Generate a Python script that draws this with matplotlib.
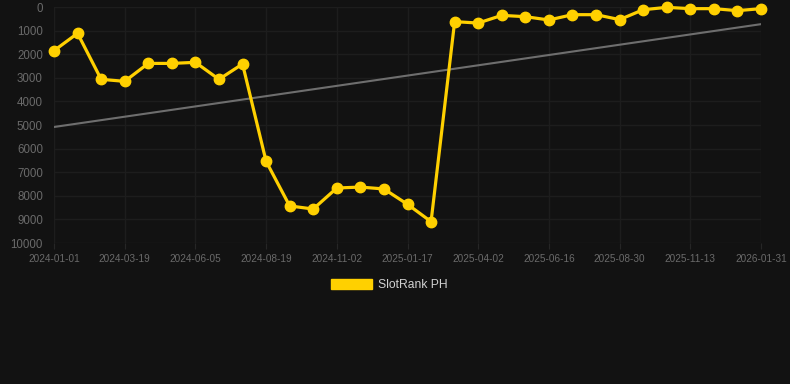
import matplotlib.pyplot as plt
from matplotlib.patches import Patch
import numpy as np

# =====================================================
# DATA
# =====================================================
RANKS = [
    1850, 1115, 3065, 3150, 2390, 2390, 2345, 3065, 2415,
    6540, 8430, 8560, 7670, 7630, 7710, 8360, 9095,
    620, 680, 355, 410, 550, 325, 325, 535, 115, 15, 70, 70, 155, 70,
]
TICK_LABELS = [
    "2024-01-01", "2024-03-19", "2024-06-05", "2024-08-19", "2024-11-02",
    "2025-01-17", "2025-04-02", "2025-06-16", "2025-08-30", "2025-11-13",
    "2026-01-31",
]
SERIES_NAME = "SlotRank PH"

# =====================================================
# STYLE
# =====================================================
BG = "#121212"
GRID = "#1d1d1d"
GOLD = "#FFD000"
TREND = "#6e6e6e"
TICK_COLOR = "#6a6a6a"

plt.rcParams["font.family"] = ["Liberation Sans", "DejaVu Sans"]

x = np.arange(len(RANKS))
slope, intercept = np.polyfit(x, RANKS, 1)
trend = slope * x + intercept

fig = plt.figure(figsize=(7.9, 3.84), dpi=100, facecolor=BG)
ax = fig.add_axes([54 / 790, 1 - 243 / 384, 707 / 790, 236 / 384])
ax.set_facecolor(BG)

ax.plot(x, trend, color=TREND, linewidth=1.5, zorder=2)
ax.plot(x, RANKS, color=GOLD, linewidth=2.3, marker="o", markersize=7.5,
        zorder=3, clip_on=False)

ax.set_xlim(0, len(RANKS) - 1)
ax.set_ylim(10000, 0)
ax.set_yticks(range(0, 10001, 1000))
ax.set_yticklabels([str(v) for v in range(0, 10001, 1000)])
ax.set_xticks(x[::3])
ax.set_xticklabels(TICK_LABELS)

ax.grid(True, color=GRID, linewidth=1)
ax.set_axisbelow(True)
for s in ax.spines.values():
    s.set_visible(False)

ax.tick_params(axis="y", length=0, pad=8, labelsize=8.3, labelcolor=TICK_COLOR)
ax.tick_params(axis="x", length=4, color="#262626", pad=4, labelsize=7.2,
               labelcolor=TICK_COLOR)

fig.legend(handles=[Patch(facecolor=GOLD, edgecolor=GOLD)], labels=[SERIES_NAME],
           loc="center", bbox_to_anchor=(0.493, 1 - 285 / 384), frameon=False,
           fontsize=8.7, labelcolor="#d0d0d0", handlelength=3.4, handleheight=0.95,
           handletextpad=0.5)

fig.savefig("out.png", dpi=100, facecolor=BG)
